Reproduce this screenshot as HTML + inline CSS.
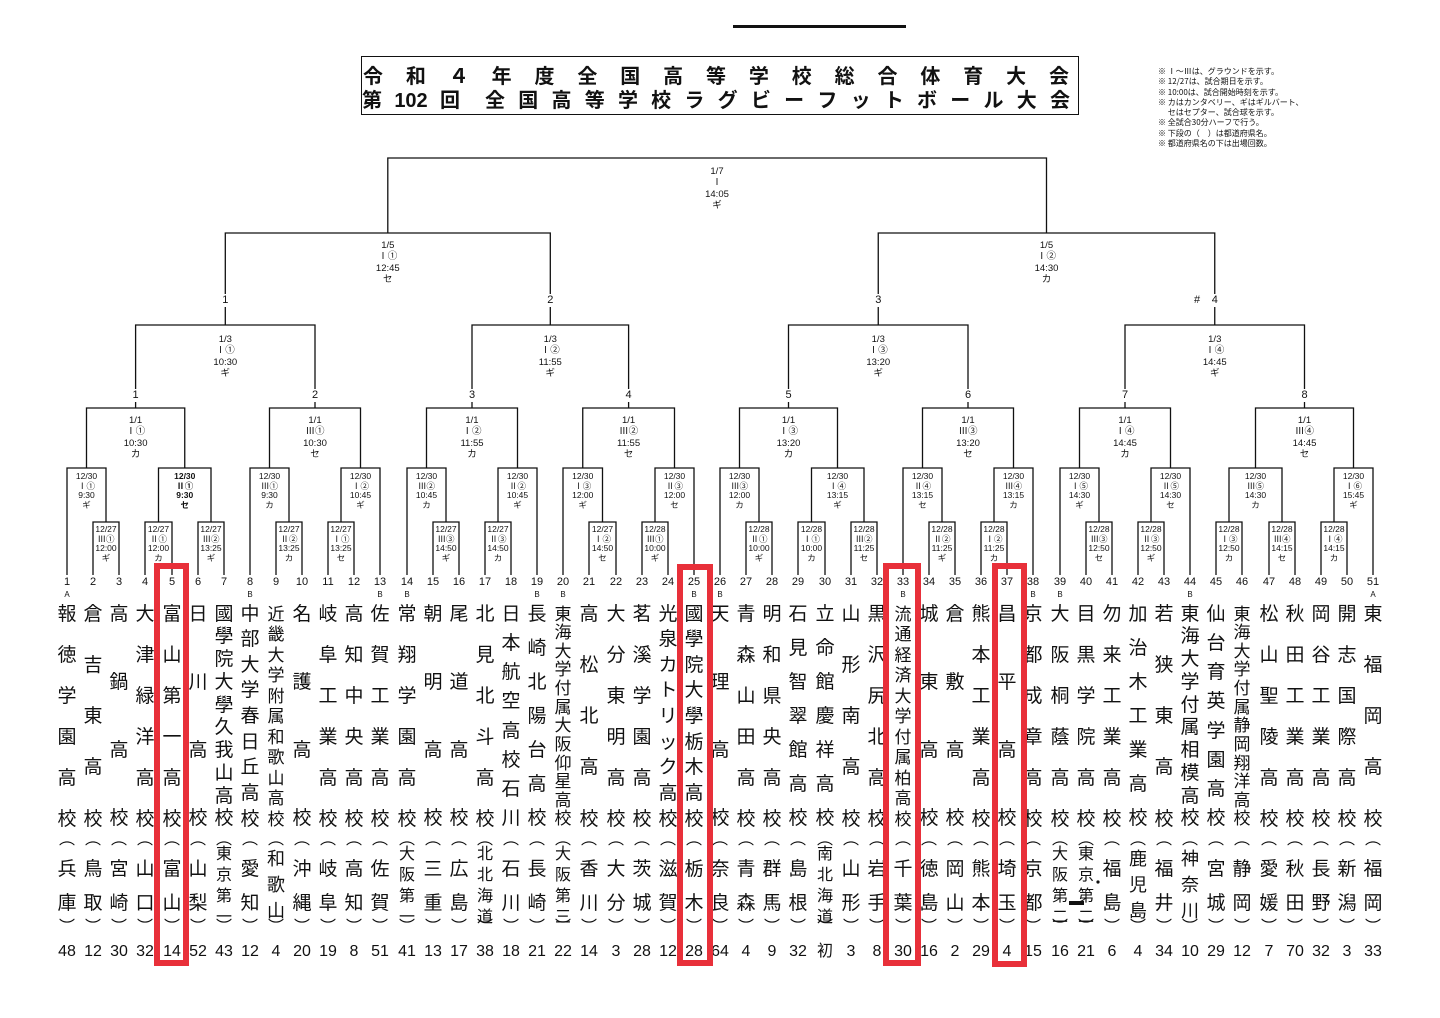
<!DOCTYPE html>
<html><head><meta charset="utf-8">
<style>
html,body{margin:0;padding:0;background:#fff}
body{width:1440px;height:1018px;position:relative;overflow:hidden;font-family:"Liberation Sans","Noto Sans CJK JP",sans-serif;color:#111}
svg{position:absolute;left:0;top:0}
.s,.m,.k{position:absolute;transform:translateX(-50%);text-align:center;white-space:nowrap;font-family:"Liberation Sans","Noto Sans CJK JP",sans-serif}
.s{font-size:8.5px;line-height:9.7px}
.m{font-size:9.5px;line-height:11.3px}
.k{font-size:11px;line-height:13px;background:#fff;padding:0 3px}
.c{position:absolute;top:0;width:34px;margin-left:-17px;height:1018px}
.c>div{position:absolute;left:0;width:34px;text-align:center}
.c i{font-style:normal;display:block}
.no{top:575px;font:11px/14px "Liberation Sans",sans-serif}
.ab{top:590px;font:8px/10px "Liberation Sans",sans-serif}
.nm,.p2,.p3,.p4{display:flex;flex-direction:column;justify-content:space-between;align-items:center;font-family:"Noto Sans CJK JP",sans-serif}
.nm{top:602.5px;height:224px;font-size:19px;line-height:19px}
.nm.sm{top:603.5px;height:222px;font-size:17px;line-height:17px}
.op,.cp{font-family:"Noto Sans CJK JP",sans-serif;font-size:16px;line-height:16px}
.op{top:829px}.cp{top:917px}
.p2{top:857.5px;height:53px;font-size:19px;line-height:19px}
.p3{top:849px;height:70px;font-size:18px;line-height:18px}
.p4{top:844px;height:79px;font-size:16px;line-height:16px}
.ct{top:943px;font:16px/18px "Liberation Sans",sans-serif}
.title{position:absolute;left:361px;top:56px;width:716px;height:57px;border:1.5px solid #111}
.tl{position:absolute;display:flex;justify-content:space-between;font-family:"Liberation Sans","Noto Sans CJK JP",sans-serif;font-weight:bold;font-size:20px;line-height:22px}
.red{position:absolute;border:6px solid #e8303a;box-sizing:border-box}
.leg{position:absolute;left:1158px;top:67px;font-family:"Noto Sans CJK JP",sans-serif;font-size:8px;line-height:10.3px;white-space:pre}
</style></head><body>

<div style="position:absolute;left:733px;top:25px;width:173px;height:3px;background:#111"></div>

<div class="title"></div>
<div class="tl" style="left:363px;top:66px;width:706px"><span>令</span><span>和</span><span>４</span><span>年</span><span>度</span><span>全</span><span>国</span><span>高</span><span>等</span><span>学</span><span>校</span><span>総</span><span>合</span><span>体</span><span>育</span><span>大</span><span>会</span></div>
<div class="tl" style="left:362px;top:90px;width:98px"><span>第</span><span>102</span><span>回</span></div>
<div class="tl" style="left:485px;top:90px;width:585px"><span>全</span><span>国</span><span>高</span><span>等</span><span>学</span><span>校</span><span>ラ</span><span>グ</span><span>ビ</span><span>ー</span><span>フ</span><span>ッ</span><span>ト</span><span>ボ</span><span>ー</span><span>ル</span><span>大</span><span>会</span></div>

<div class="leg">※ Ⅰ～Ⅲは、グラウンドを示す。
※ 12/27は、試合期日を示す。
※ 10:00は、試合開始時刻を示す。
※ カはカンタベリー、ギはギルバート、
　 セはセプター、試合球を示す。
※ 全試合30分ハーフで行う。
※ 下段の（　）は都道府県名。
※ 都道府県名の下は出場回数。</div>

<svg width="1440" height="1018" viewBox="0 0 1440 1018">
<g fill="none" stroke="#111" stroke-width="1.3">
<path d="M93 575V522H119V575M145 575V522H172V575M198 575V522H224V575M276 575V522H302V575M328 575V522H354V575M433 575V522H459V575M485 575V522H511V575M589 575V522H616V575M642 575V522H668V575M746 575V522H772V575M798 575V522H825V575M851 575V522H877V575M929 575V522H955V575M981 575V522H1007V575M1086 575V522H1112V575M1138 575V522H1164V575M1216 575V522H1242V575M1269 575V522H1295V575M1321 575V522H1347V575"/>
<path d="M67 575V468H106V522M158.5 522V468H211V522M250 575V468H289V522M341 522V468H380V575M407 575V468H446V522M498 522V468H537V575M563 575V468H602.5V522M655 522V468H694V575M720 575V468H759V522M811.5 522V468H864V522M903 575V468H942V522M994 522V468H1033V575M1060 575V468H1099V522M1151 522V468H1190V575M1229 522V468H1282V522M1334 522V468H1373V575"/>
<path d="M86.5 468V408H184.75V468M269.5 468V408H360.5V468M426.5 468V408H517.5V468M582.75 468V408H674.5V468M739.5 468V408H837.5V468M922.5 468V408H1013.5V468M1079.5 468V408H1170.5V468M1255.5 468V408H1353.5V468"/>
<path d="M135.6 408V325H315V408M472 408V325H628.6V408M788.5 408V325H968V408M1125 408V325H1304.5V408"/>
<path d="M225.3 325V233H550.3V325M878.25 325V233H1214.75V325"/>
<path d="M387.8 233V158H1046.5V233"/>
</g>
<rect x="1069" y="901" width="15" height="4" fill="#111"/>
<circle cx="1098" cy="882" r="1.6" fill="#111"/>
</svg>

<div class="s" style="left:106px;top:525px">12/27<br>Ⅲ①<br>12:00<br>ギ</div>
<div class="s" style="left:158.5px;top:525px">12/27<br>Ⅱ①<br>12:00<br>カ</div>
<div class="s" style="left:211px;top:525px">12/27<br>Ⅲ②<br>13:25<br>ギ</div>
<div class="s" style="left:289px;top:525px">12/27<br>Ⅱ②<br>13:25<br>カ</div>
<div class="s" style="left:341px;top:525px">12/27<br>Ⅰ①<br>13:25<br>セ</div>
<div class="s" style="left:446px;top:525px">12/27<br>Ⅲ③<br>14:50<br>ギ</div>
<div class="s" style="left:498px;top:525px">12/27<br>Ⅱ③<br>14:50<br>カ</div>
<div class="s" style="left:602.5px;top:525px">12/27<br>Ⅰ②<br>14:50<br>セ</div>
<div class="s" style="left:655px;top:525px">12/28<br>Ⅲ①<br>10:00<br>ギ</div>
<div class="s" style="left:759px;top:525px">12/28<br>Ⅱ①<br>10:00<br>ギ</div>
<div class="s" style="left:811.5px;top:525px">12/28<br>Ⅰ①<br>10:00<br>カ</div>
<div class="s" style="left:864px;top:525px">12/28<br>Ⅲ②<br>11:25<br>セ</div>
<div class="s" style="left:942px;top:525px">12/28<br>Ⅱ②<br>11:25<br>ギ</div>
<div class="s" style="left:994px;top:525px">12/28<br>Ⅰ②<br>11:25<br>カ</div>
<div class="s" style="left:1099px;top:525px">12/28<br>Ⅲ③<br>12:50<br>セ</div>
<div class="s" style="left:1151px;top:525px">12/28<br>Ⅱ③<br>12:50<br>ギ</div>
<div class="s" style="left:1229px;top:525px">12/28<br>Ⅰ③<br>12:50<br>カ</div>
<div class="s" style="left:1282px;top:525px">12/28<br>Ⅲ④<br>14:15<br>セ</div>
<div class="s" style="left:1334px;top:525px">12/28<br>Ⅰ④<br>14:15<br>カ</div>

<div class="s" style="left:86.5px;top:472px">12/30<br>Ⅰ①<br>9:30<br>ギ</div>
<div class="s" style="left:184.75px;top:472px;font-weight:bold">12/30<br>Ⅱ①<br>9:30<br>セ</div>
<div class="s" style="left:269.5px;top:472px">12/30<br>Ⅲ①<br>9:30<br>カ</div>
<div class="s" style="left:360.5px;top:472px">12/30<br>Ⅰ②<br>10:45<br>ギ</div>
<div class="s" style="left:426.5px;top:472px">12/30<br>Ⅲ②<br>10:45<br>カ</div>
<div class="s" style="left:517.5px;top:472px">12/30<br>Ⅱ②<br>10:45<br>ギ</div>
<div class="s" style="left:582.75px;top:472px">12/30<br>Ⅰ③<br>12:00<br>ギ</div>
<div class="s" style="left:674.5px;top:472px">12/30<br>Ⅱ③<br>12:00<br>セ</div>
<div class="s" style="left:739.5px;top:472px">12/30<br>Ⅲ③<br>12:00<br>カ</div>
<div class="s" style="left:837.5px;top:472px">12/30<br>Ⅰ④<br>13:15<br>ギ</div>
<div class="s" style="left:922.5px;top:472px">12/30<br>Ⅱ④<br>13:15<br>セ</div>
<div class="s" style="left:1013.5px;top:472px">12/30<br>Ⅲ④<br>13:15<br>カ</div>
<div class="s" style="left:1079.5px;top:472px">12/30<br>Ⅰ⑤<br>14:30<br>ギ</div>
<div class="s" style="left:1170.5px;top:472px">12/30<br>Ⅱ⑤<br>14:30<br>セ</div>
<div class="s" style="left:1255.5px;top:472px">12/30<br>Ⅲ⑤<br>14:30<br>カ</div>
<div class="s" style="left:1353.5px;top:472px">12/30<br>Ⅰ⑥<br>15:45<br>ギ</div>

<div class="m" style="left:135.6px;top:415px">1/1<br>Ⅰ①<br>10:30<br>カ</div>
<div class="m" style="left:315px;top:415px">1/1<br>Ⅲ①<br>10:30<br>セ</div>
<div class="m" style="left:472px;top:415px">1/1<br>Ⅰ②<br>11:55<br>カ</div>
<div class="m" style="left:628.6px;top:415px">1/1<br>Ⅲ②<br>11:55<br>セ</div>
<div class="m" style="left:788.5px;top:415px">1/1<br>Ⅰ③<br>13:20<br>カ</div>
<div class="m" style="left:968px;top:415px">1/1<br>Ⅲ③<br>13:20<br>セ</div>
<div class="m" style="left:1125px;top:415px">1/1<br>Ⅰ④<br>14:45<br>カ</div>
<div class="m" style="left:1304.5px;top:415px">1/1<br>Ⅲ④<br>14:45<br>セ</div>

<div class="m" style="left:225.3px;top:334px">1/3<br>Ⅰ①<br>10:30<br>ギ</div>
<div class="m" style="left:550.3px;top:334px">1/3<br>Ⅰ②<br>11:55<br>ギ</div>
<div class="m" style="left:878.25px;top:334px">1/3<br>Ⅰ③<br>13:20<br>ギ</div>
<div class="m" style="left:1214.75px;top:334px">1/3<br>Ⅰ④<br>14:45<br>ギ</div>
<div class="m" style="left:387.8px;top:240px">1/5<br>Ⅰ①<br>12:45<br>セ</div>
<div class="m" style="left:1046.5px;top:240px">1/5<br>Ⅰ②<br>14:30<br>カ</div>
<div class="m" style="left:717px;top:166px">1/7<br>Ⅰ<br>14:05<br>ギ</div>

<div class="k" style="left:135.6px;top:389px">1</div>
<div class="k" style="left:315px;top:389px">2</div>
<div class="k" style="left:472px;top:389px">3</div>
<div class="k" style="left:628.6px;top:389px">4</div>
<div class="k" style="left:788.5px;top:389px">5</div>
<div class="k" style="left:968px;top:389px">6</div>
<div class="k" style="left:1125px;top:389px">7</div>
<div class="k" style="left:1304.5px;top:389px">8</div>
<div class="k" style="left:225.3px;top:294px">1</div>
<div class="k" style="left:550.3px;top:294px">2</div>
<div class="k" style="left:878.25px;top:294px">3</div>
<div class="k" style="left:1214.75px;top:294px">4</div>
<div class="k" style="left:1197px;top:294px;background:transparent">#</div>

<div class="c" style="left:67px"><div class="no">1</div><div class="ab">A</div><div class="nm"><i>報</i><i>徳</i><i>学</i><i>園</i><i>高</i><i>校</i></div><div class="op">︵</div><div class="p2"><i>兵</i><i>庫</i></div><div class="cp">︶</div><div class="ct">48</div></div>
<div class="c" style="left:93px"><div class="no">2</div><div class="nm"><i>倉</i><i>吉</i><i>東</i><i>高</i><i>校</i></div><div class="op">︵</div><div class="p2"><i>鳥</i><i>取</i></div><div class="cp">︶</div><div class="ct">12</div></div>
<div class="c" style="left:119px"><div class="no">3</div><div class="nm"><i>高</i><i>鍋</i><i>高</i><i>校</i></div><div class="op">︵</div><div class="p2"><i>宮</i><i>崎</i></div><div class="cp">︶</div><div class="ct">30</div></div>
<div class="c" style="left:145px"><div class="no">4</div><div class="nm"><i>大</i><i>津</i><i>緑</i><i>洋</i><i>高</i><i>校</i></div><div class="op">︵</div><div class="p2"><i>山</i><i>口</i></div><div class="cp">︶</div><div class="ct">32</div></div>
<div class="c" style="left:172px"><div class="no">5</div><div class="nm"><i>富</i><i>山</i><i>第</i><i>一</i><i>高</i><i>校</i></div><div class="op">︵</div><div class="p2"><i>富</i><i>山</i></div><div class="cp">︶</div><div class="ct">14</div></div>
<div class="c" style="left:198px"><div class="no">6</div><div class="nm"><i>日</i><i>川</i><i>高</i><i>校</i></div><div class="op">︵</div><div class="p2"><i>山</i><i>梨</i></div><div class="cp">︶</div><div class="ct">52</div></div>
<div class="c" style="left:224px"><div class="no">7</div><div class="nm"><i>國</i><i>學</i><i>院</i><i>大</i><i>學</i><i>久</i><i>我</i><i>山</i><i>高</i><i>校</i></div><div class="op">︵</div><div class="p4"><i>東</i><i>京</i><i>第</i><i>一</i></div><div class="cp">︶</div><div class="ct">43</div></div>
<div class="c" style="left:250px"><div class="no">8</div><div class="ab">B</div><div class="nm"><i>中</i><i>部</i><i>大</i><i>学</i><i>春</i><i>日</i><i>丘</i><i>高</i><i>校</i></div><div class="op">︵</div><div class="p2"><i>愛</i><i>知</i></div><div class="cp">︶</div><div class="ct">12</div></div>
<div class="c" style="left:276px"><div class="no">9</div><div class="nm sm"><i>近</i><i>畿</i><i>大</i><i>学</i><i>附</i><i>属</i><i>和</i><i>歌</i><i>山</i><i>高</i><i>校</i></div><div class="op">︵</div><div class="p3"><i>和</i><i>歌</i><i>山</i></div><div class="cp">︶</div><div class="ct">4</div></div>
<div class="c" style="left:302px"><div class="no">10</div><div class="nm"><i>名</i><i>護</i><i>高</i><i>校</i></div><div class="op">︵</div><div class="p2"><i>沖</i><i>縄</i></div><div class="cp">︶</div><div class="ct">20</div></div>
<div class="c" style="left:328px"><div class="no">11</div><div class="nm"><i>岐</i><i>阜</i><i>工</i><i>業</i><i>高</i><i>校</i></div><div class="op">︵</div><div class="p2"><i>岐</i><i>阜</i></div><div class="cp">︶</div><div class="ct">19</div></div>
<div class="c" style="left:354px"><div class="no">12</div><div class="nm"><i>高</i><i>知</i><i>中</i><i>央</i><i>高</i><i>校</i></div><div class="op">︵</div><div class="p2"><i>高</i><i>知</i></div><div class="cp">︶</div><div class="ct">8</div></div>
<div class="c" style="left:380px"><div class="no">13</div><div class="ab">B</div><div class="nm"><i>佐</i><i>賀</i><i>工</i><i>業</i><i>高</i><i>校</i></div><div class="op">︵</div><div class="p2"><i>佐</i><i>賀</i></div><div class="cp">︶</div><div class="ct">51</div></div>
<div class="c" style="left:407px"><div class="no">14</div><div class="ab">B</div><div class="nm"><i>常</i><i>翔</i><i>学</i><i>園</i><i>高</i><i>校</i></div><div class="op">︵</div><div class="p4"><i>大</i><i>阪</i><i>第</i><i>一</i></div><div class="cp">︶</div><div class="ct">41</div></div>
<div class="c" style="left:433px"><div class="no">15</div><div class="nm"><i>朝</i><i>明</i><i>高</i><i>校</i></div><div class="op">︵</div><div class="p2"><i>三</i><i>重</i></div><div class="cp">︶</div><div class="ct">13</div></div>
<div class="c" style="left:459px"><div class="no">16</div><div class="nm"><i>尾</i><i>道</i><i>高</i><i>校</i></div><div class="op">︵</div><div class="p2"><i>広</i><i>島</i></div><div class="cp">︶</div><div class="ct">17</div></div>
<div class="c" style="left:485px"><div class="no">17</div><div class="nm"><i>北</i><i>見</i><i>北</i><i>斗</i><i>高</i><i>校</i></div><div class="op">︵</div><div class="p4"><i>北</i><i>北</i><i>海</i><i>道</i></div><div class="cp">︶</div><div class="ct">38</div></div>
<div class="c" style="left:511px"><div class="no">18</div><div class="nm"><i>日</i><i>本</i><i>航</i><i>空</i><i>高</i><i>校</i><i>石</i><i>川</i></div><div class="op">︵</div><div class="p2"><i>石</i><i>川</i></div><div class="cp">︶</div><div class="ct">18</div></div>
<div class="c" style="left:537px"><div class="no">19</div><div class="ab">B</div><div class="nm"><i>長</i><i>崎</i><i>北</i><i>陽</i><i>台</i><i>高</i><i>校</i></div><div class="op">︵</div><div class="p2"><i>長</i><i>崎</i></div><div class="cp">︶</div><div class="ct">21</div></div>
<div class="c" style="left:563px"><div class="no">20</div><div class="ab">B</div><div class="nm sm"><i>東</i><i>海</i><i>大</i><i>学</i><i>付</i><i>属</i><i>大</i><i>阪</i><i>仰</i><i>星</i><i>高</i><i>校</i></div><div class="op">︵</div><div class="p4"><i>大</i><i>阪</i><i>第</i><i>三</i></div><div class="cp">︶</div><div class="ct">22</div></div>
<div class="c" style="left:589px"><div class="no">21</div><div class="nm"><i>高</i><i>松</i><i>北</i><i>高</i><i>校</i></div><div class="op">︵</div><div class="p2"><i>香</i><i>川</i></div><div class="cp">︶</div><div class="ct">14</div></div>
<div class="c" style="left:616px"><div class="no">22</div><div class="nm"><i>大</i><i>分</i><i>東</i><i>明</i><i>高</i><i>校</i></div><div class="op">︵</div><div class="p2"><i>大</i><i>分</i></div><div class="cp">︶</div><div class="ct">3</div></div>
<div class="c" style="left:642px"><div class="no">23</div><div class="nm"><i>茗</i><i>溪</i><i>学</i><i>園</i><i>高</i><i>校</i></div><div class="op">︵</div><div class="p2"><i>茨</i><i>城</i></div><div class="cp">︶</div><div class="ct">28</div></div>
<div class="c" style="left:668px"><div class="no">24</div><div class="nm"><i>光</i><i>泉</i><i>カ</i><i>ト</i><i>リ</i><i>ッ</i><i>ク</i><i>高</i><i>校</i></div><div class="op">︵</div><div class="p2"><i>滋</i><i>賀</i></div><div class="cp">︶</div><div class="ct">12</div></div>
<div class="c" style="left:694px"><div class="no">25</div><div class="ab">B</div><div class="nm"><i>國</i><i>學</i><i>院</i><i>大</i><i>學</i><i>栃</i><i>木</i><i>高</i><i>校</i></div><div class="op">︵</div><div class="p2"><i>栃</i><i>木</i></div><div class="cp">︶</div><div class="ct">28</div></div>
<div class="c" style="left:720px"><div class="no">26</div><div class="ab">B</div><div class="nm"><i>天</i><i>理</i><i>高</i><i>校</i></div><div class="op">︵</div><div class="p2"><i>奈</i><i>良</i></div><div class="cp">︶</div><div class="ct">64</div></div>
<div class="c" style="left:746px"><div class="no">27</div><div class="nm"><i>青</i><i>森</i><i>山</i><i>田</i><i>高</i><i>校</i></div><div class="op">︵</div><div class="p2"><i>青</i><i>森</i></div><div class="cp">︶</div><div class="ct">4</div></div>
<div class="c" style="left:772px"><div class="no">28</div><div class="nm"><i>明</i><i>和</i><i>県</i><i>央</i><i>高</i><i>校</i></div><div class="op">︵</div><div class="p2"><i>群</i><i>馬</i></div><div class="cp">︶</div><div class="ct">9</div></div>
<div class="c" style="left:798px"><div class="no">29</div><div class="nm"><i>石</i><i>見</i><i>智</i><i>翠</i><i>館</i><i>高</i><i>校</i></div><div class="op">︵</div><div class="p2"><i>島</i><i>根</i></div><div class="cp">︶</div><div class="ct">32</div></div>
<div class="c" style="left:825px"><div class="no">30</div><div class="nm"><i>立</i><i>命</i><i>館</i><i>慶</i><i>祥</i><i>高</i><i>校</i></div><div class="op">︵</div><div class="p4"><i>南</i><i>北</i><i>海</i><i>道</i></div><div class="cp">︶</div><div class="ct">初</div></div>
<div class="c" style="left:851px"><div class="no">31</div><div class="nm"><i>山</i><i>形</i><i>南</i><i>高</i><i>校</i></div><div class="op">︵</div><div class="p2"><i>山</i><i>形</i></div><div class="cp">︶</div><div class="ct">3</div></div>
<div class="c" style="left:877px"><div class="no">32</div><div class="nm"><i>黒</i><i>沢</i><i>尻</i><i>北</i><i>高</i><i>校</i></div><div class="op">︵</div><div class="p2"><i>岩</i><i>手</i></div><div class="cp">︶</div><div class="ct">8</div></div>
<div class="c" style="left:903px"><div class="no">33</div><div class="ab">B</div><div class="nm sm"><i>流</i><i>通</i><i>経</i><i>済</i><i>大</i><i>学</i><i>付</i><i>属</i><i>柏</i><i>高</i><i>校</i></div><div class="op">︵</div><div class="p2"><i>千</i><i>葉</i></div><div class="cp">︶</div><div class="ct">30</div></div>
<div class="c" style="left:929px"><div class="no">34</div><div class="nm"><i>城</i><i>東</i><i>高</i><i>校</i></div><div class="op">︵</div><div class="p2"><i>徳</i><i>島</i></div><div class="cp">︶</div><div class="ct">16</div></div>
<div class="c" style="left:955px"><div class="no">35</div><div class="nm"><i>倉</i><i>敷</i><i>高</i><i>校</i></div><div class="op">︵</div><div class="p2"><i>岡</i><i>山</i></div><div class="cp">︶</div><div class="ct">2</div></div>
<div class="c" style="left:981px"><div class="no">36</div><div class="nm"><i>熊</i><i>本</i><i>工</i><i>業</i><i>高</i><i>校</i></div><div class="op">︵</div><div class="p2"><i>熊</i><i>本</i></div><div class="cp">︶</div><div class="ct">29</div></div>
<div class="c" style="left:1007px"><div class="no">37</div><div class="nm"><i>昌</i><i>平</i><i>高</i><i>校</i></div><div class="op">︵</div><div class="p2"><i>埼</i><i>玉</i></div><div class="cp">︶</div><div class="ct">4</div></div>
<div class="c" style="left:1033px"><div class="no">38</div><div class="ab">B</div><div class="nm"><i>京</i><i>都</i><i>成</i><i>章</i><i>高</i><i>校</i></div><div class="op">︵</div><div class="p2"><i>京</i><i>都</i></div><div class="cp">︶</div><div class="ct">15</div></div>
<div class="c" style="left:1060px"><div class="no">39</div><div class="ab">B</div><div class="nm"><i>大</i><i>阪</i><i>桐</i><i>蔭</i><i>高</i><i>校</i></div><div class="op">︵</div><div class="p4"><i>大</i><i>阪</i><i>第</i><i>二</i></div><div class="cp">︶</div><div class="ct">16</div></div>
<div class="c" style="left:1086px"><div class="no">40</div><div class="nm"><i>目</i><i>黒</i><i>学</i><i>院</i><i>高</i><i>校</i></div><div class="op">︵</div><div class="p4"><i>東</i><i>京</i><i>第</i><i>二</i></div><div class="cp">︶</div><div class="ct">21</div></div>
<div class="c" style="left:1112px"><div class="no">41</div><div class="nm"><i>勿</i><i>来</i><i>工</i><i>業</i><i>高</i><i>校</i></div><div class="op">︵</div><div class="p2"><i>福</i><i>島</i></div><div class="cp">︶</div><div class="ct">6</div></div>
<div class="c" style="left:1138px"><div class="no">42</div><div class="nm"><i>加</i><i>治</i><i>木</i><i>工</i><i>業</i><i>高</i><i>校</i></div><div class="op">︵</div><div class="p3"><i>鹿</i><i>児</i><i>島</i></div><div class="cp">︶</div><div class="ct">4</div></div>
<div class="c" style="left:1164px"><div class="no">43</div><div class="nm"><i>若</i><i>狭</i><i>東</i><i>高</i><i>校</i></div><div class="op">︵</div><div class="p2"><i>福</i><i>井</i></div><div class="cp">︶</div><div class="ct">34</div></div>
<div class="c" style="left:1190px"><div class="no">44</div><div class="ab">B</div><div class="nm"><i>東</i><i>海</i><i>大</i><i>学</i><i>付</i><i>属</i><i>相</i><i>模</i><i>高</i><i>校</i></div><div class="op">︵</div><div class="p3"><i>神</i><i>奈</i><i>川</i></div><div class="cp">︶</div><div class="ct">10</div></div>
<div class="c" style="left:1216px"><div class="no">45</div><div class="nm"><i>仙</i><i>台</i><i>育</i><i>英</i><i>学</i><i>園</i><i>高</i><i>校</i></div><div class="op">︵</div><div class="p2"><i>宮</i><i>城</i></div><div class="cp">︶</div><div class="ct">29</div></div>
<div class="c" style="left:1242px"><div class="no">46</div><div class="nm sm"><i>東</i><i>海</i><i>大</i><i>学</i><i>付</i><i>属</i><i>静</i><i>岡</i><i>翔</i><i>洋</i><i>高</i><i>校</i></div><div class="op">︵</div><div class="p2"><i>静</i><i>岡</i></div><div class="cp">︶</div><div class="ct">12</div></div>
<div class="c" style="left:1269px"><div class="no">47</div><div class="nm"><i>松</i><i>山</i><i>聖</i><i>陵</i><i>高</i><i>校</i></div><div class="op">︵</div><div class="p2"><i>愛</i><i>媛</i></div><div class="cp">︶</div><div class="ct">7</div></div>
<div class="c" style="left:1295px"><div class="no">48</div><div class="nm"><i>秋</i><i>田</i><i>工</i><i>業</i><i>高</i><i>校</i></div><div class="op">︵</div><div class="p2"><i>秋</i><i>田</i></div><div class="cp">︶</div><div class="ct">70</div></div>
<div class="c" style="left:1321px"><div class="no">49</div><div class="nm"><i>岡</i><i>谷</i><i>工</i><i>業</i><i>高</i><i>校</i></div><div class="op">︵</div><div class="p2"><i>長</i><i>野</i></div><div class="cp">︶</div><div class="ct">32</div></div>
<div class="c" style="left:1347px"><div class="no">50</div><div class="nm"><i>開</i><i>志</i><i>国</i><i>際</i><i>高</i><i>校</i></div><div class="op">︵</div><div class="p2"><i>新</i><i>潟</i></div><div class="cp">︶</div><div class="ct">3</div></div>
<div class="c" style="left:1373px"><div class="no">51</div><div class="ab">A</div><div class="nm"><i>東</i><i>福</i><i>岡</i><i>高</i><i>校</i></div><div class="op">︵</div><div class="p2"><i>福</i><i>岡</i></div><div class="cp">︶</div><div class="ct">33</div></div>

<div class="red" style="left:154px;top:563px;width:35px;height:403px"></div>
<div class="red" style="left:677px;top:564px;width:36px;height:402px"></div>
<div class="red" style="left:883px;top:563px;width:38px;height:403px"></div>
<div class="red" style="left:992px;top:563px;width:35px;height:404px"></div>

</body></html>
